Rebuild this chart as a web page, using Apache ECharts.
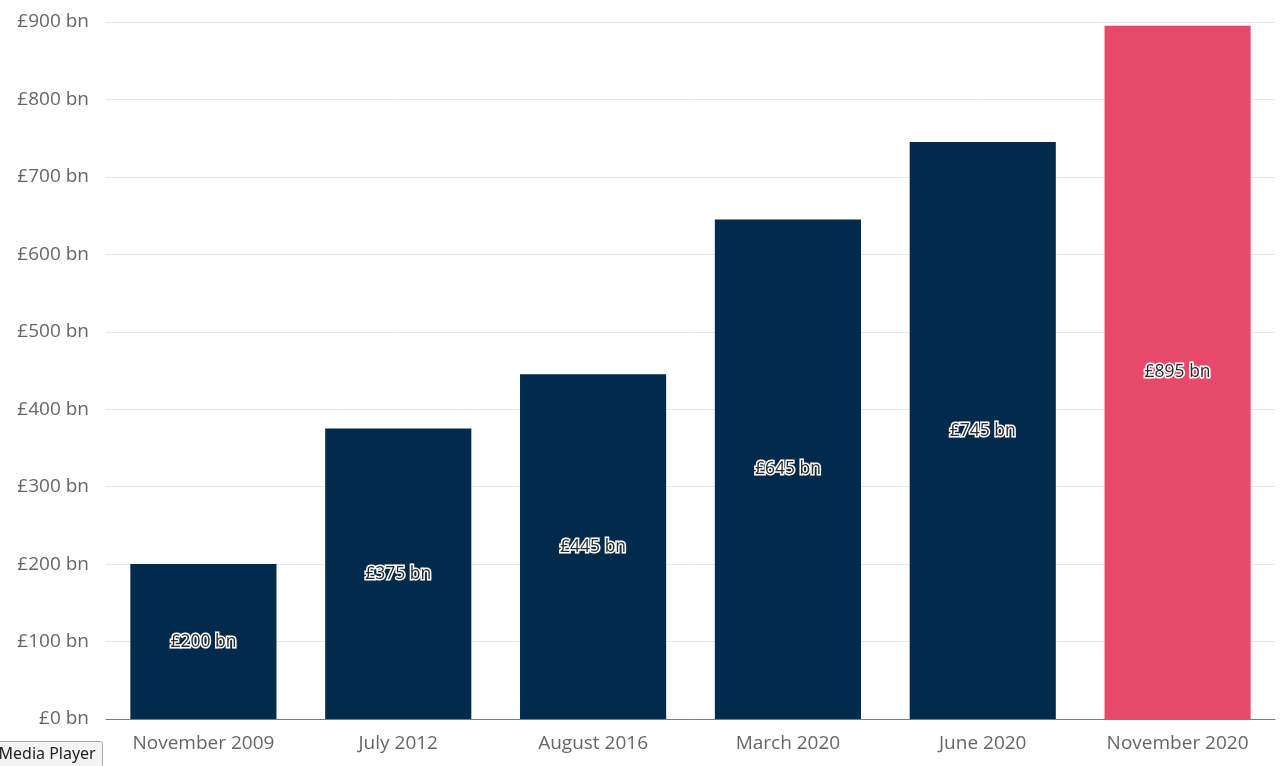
<!DOCTYPE html>
<html><head><meta charset="utf-8">
<script src="https://cdn.jsdelivr.net/npm/echarts@6/dist/echarts.min.js"></script>
<style>html,body{margin:0;padding:0;background:#fff}#c{width:1280px;height:766px}</style>
</head><body><div id="c"></div>
<script>
const categories = ["November 2009","July 2012","August 2016","March 2020","June 2020","November 2020"];
const values = [200, 375, 445, 645, 745, 895];
const barColors = ["#012a4c","#012a4c","#012a4c","#012a4c","#012a4c","#e8496a"];
const yTicks = {min:0, max:900, interval:100};

const chart = echarts.init(document.getElementById('c'));
const font = '"Open Sans", "Noto Sans", sans-serif';
chart.setOption({
  animation:false,
  grid:{left:106,right:5,top:22,bottom:47},
  xAxis:{type:'category',data:categories,
    axisLine:{lineStyle:{color:'#6e7f90',width:1}},
    axisTick:{alignWithLabel:true,length:8,lineStyle:{color:'#6e7f90'}},
    axisLabel:{color:'#666',fontSize:19,fontFamily:font,margin:15}},
  yAxis:{type:'value',min:yTicks.min,max:yTicks.max,interval:yTicks.interval,
    axisLine:{show:false},axisTick:{show:false},
    splitLine:{lineStyle:{color:'#e8e8e8'}},
    axisLabel:{color:'#666',fontSize:19,fontFamily:font,margin:17,formatter:v=>'£'+v+' bn'}},
  series:[{type:'bar',barCategoryGap:'25%',
    data:values.map((v,i)=>({value:v,itemStyle:{color:barColors[i]}})),
    label:{show:true,position:'inside',color:'#2a2a2a',fontSize:17.5,fontFamily:font,
      textBorderColor:'#fff',textBorderWidth:3,formatter:p=>'£'+p.value+' bn'}}],
  graphic:[{type:'group',left:-8,top:741,children:[
    {type:'rect',shape:{x:0,y:0,width:110,height:26,r:2},style:{fill:'#f4f4f4',stroke:'#aaa'}},
    {type:'text',style:{x:6,y:5,text:'Media Player',fill:'#222',font:'16px "Noto Sans", sans-serif'}}]}]
});
</script></body></html>
